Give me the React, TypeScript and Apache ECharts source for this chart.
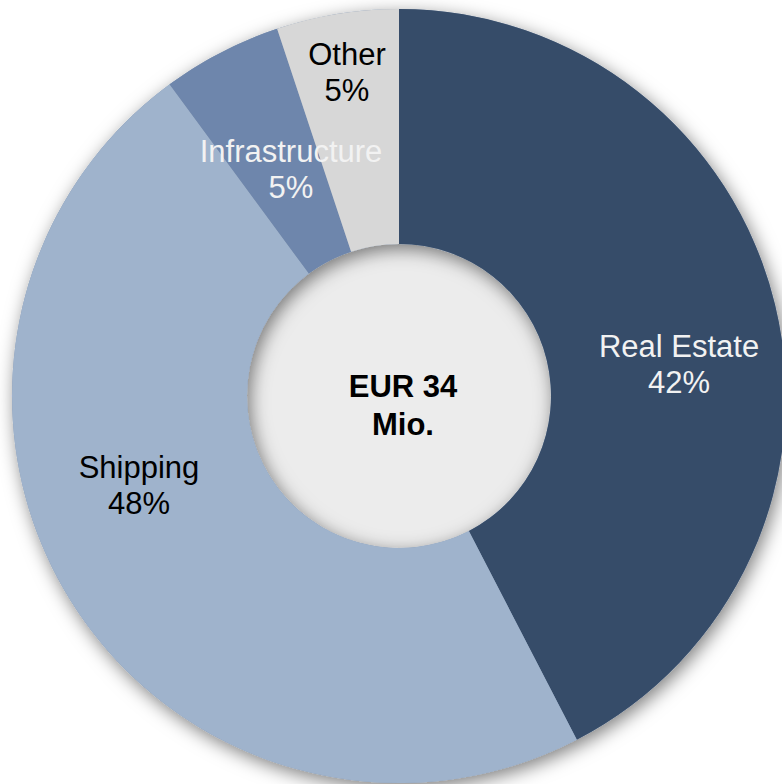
import React, { useEffect, useRef } from "react";
import * as echarts from "echarts";

const categories = ["Real Estate", "Shipping", "Infrastructure", "Other"];
const shares = [42.4, 47.5, 5.0, 5.1];
const sliceColors = ["#364c69", "#9fb3cc", "#6e86ac", "#d7d7d7"];
const labelColors = ["#f2f2f2", "#000000", "#f2f2f2", "#000000"];
const centerLines = ["EUR 34", "Mio."];
// label anchor positions (layout only)
const labelPos: [number, number][] = [
  [679, 364],
  [139, 485],
  [291, 169],
  [347, 72],
];

const CX = 399;
const CY = 396;
const R_OUT = 387;
const R_IN = 152;

export default function App() {
  const ref = useRef<HTMLDivElement>(null);
  useEffect(() => {
    if (!ref.current) return;
    const chart = echarts.init(ref.current, undefined, { renderer: "svg" });
    const font = "'Liberation Sans', Arial, sans-serif";
    chart.setOption({
      animation: false,
      backgroundColor: "#ffffff",
      series: [
        {
          type: "pie",
          z: 1,
          silent: true,
          center: [CX, CY],
          radius: [0, R_IN + 2],
          label: { show: false },
          labelLine: { show: false },
          itemStyle: { color: "#ececec" },
          data: [{ value: 1, name: "hole" }],
        },
        {
          type: "pie",
          z: 2,
          silent: true,
          center: [CX, CY],
          radius: [R_IN, R_OUT],
          label: { show: false },
          labelLine: { show: false },
          itemStyle: {
            color: "#8a9ab0",
            shadowBlur: 18,
            shadowColor: "rgba(0,0,0,0.5)",
            shadowOffsetX: 3,
            shadowOffsetY: 5,
          },
          data: [{ value: 1, name: "shadow" }],
        },
        {
          type: "pie",
          z: 3,
          center: [CX, CY],
          radius: [R_IN, R_OUT],
          startAngle: 90,
          clockwise: true,
          avoidLabelOverlap: false,
          labelLine: { show: false },
          label: {
            show: true,
            position: "inside",
            fontFamily: font,
            fontSize: 31,
            lineHeight: 36,
            align: "center",
            verticalAlign: "middle",
            formatter: (p: any) => `${p.name}\n${Math.round(p.value)}%`,
          },
          labelLayout: (p: any) => ({
            x: labelPos[p.dataIndex][0],
            y: labelPos[p.dataIndex][1],
            align: "center",
            verticalAlign: "middle",
          }),
          itemStyle: { borderWidth: 0 },
          data: categories.map((c, i) => ({
            name: c,
            value: shares[i],
            itemStyle: { color: sliceColors[i] },
            label: { color: labelColors[i] },
          })),
        },
      ],
      graphic: [
        {
          type: "text",
          z: 100,
          x: 403,
          y: 405,
          style: {
            text: centerLines.join("\n"),
            fontFamily: font,
            fontWeight: "bold",
            fontSize: 31,
            lineHeight: 38,
            fill: "#000000",
            align: "center",
            verticalAlign: "middle",
          },
        },
      ],
    });
    return () => chart.dispose();
  }, []);
  return (
    <div
      ref={ref}
      style={{ position: "fixed", left: 0, top: 0, width: 782, height: 784 }}
    />
  );
}
